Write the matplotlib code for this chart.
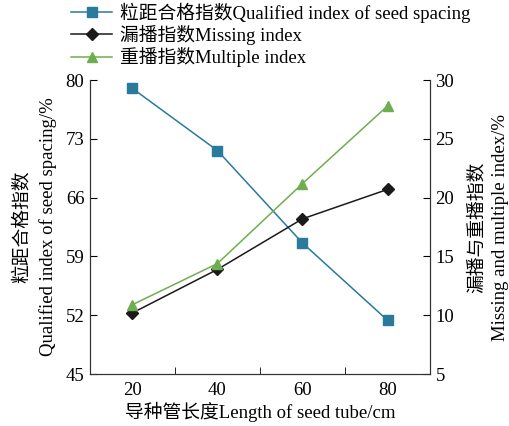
import matplotlib.pyplot as plt

plt.rcParams['font.family'] = ['Liberation Serif', 'Noto Sans CJK SC']
plt.rcParams['axes.unicode_minus'] = False

# tube length (cm) and the three indices (%)
tube_len = [20, 40, 60, 80]
qualified = [79.0, 71.6, 60.6, 51.4]
missing = [10.2, 13.9, 18.2, 20.7]
multiple = [10.9, 14.4, 21.2, 27.8]

fig = plt.figure(figsize=(5.09, 4.26), dpi=100)
ax = fig.add_axes([0.1768, 0.122, 0.668, 0.690])
ax2 = ax.twinx()

c_blue = '#2a7a9c'
c_green = '#6fae4f'
c_black = '#1a1a1a'
fs = 13.5

l1, = ax.plot(tube_len, qualified, color=c_blue, lw=1.1, marker='s', ms=6.5,
              label='粒距合格指数Qualified index of seed spacing')
l2, = ax2.plot(tube_len, missing, color=c_black, lw=1.1, marker='D', ms=6.5,
               label='漏播指数Missing index')
l3, = ax2.plot(tube_len, multiple, color=c_green, lw=1.1, marker='^', ms=7.5,
               label='重播指数Multiple index')

ax.set_xlim(10, 90)
ax.set_ylim(45, 80)
ax2.set_ylim(5, 30)
ax.set_yticks([45, 52, 59, 66, 73, 80])
ax2.set_yticks([5, 10, 15, 20, 25, 30])

# labels sit at 20..80, tick marks between them
ax.set_xticks([20, 40, 60, 80])
ax.set_xticks([30, 50, 70], minor=True)
ax.tick_params(axis='x', which='major', length=0, pad=6, labelsize=fs)
ax.tick_params(axis='x', which='minor', length=5, direction='in')
ax.tick_params(axis='y', direction='in', length=5, labelsize=fs, pad=4)
ax2.tick_params(axis='y', direction='in', length=5, labelsize=fs, pad=4)

for a in (ax, ax2):
    a.spines['top'].set_visible(False)
    for s in a.spines.values():
        s.set_color('#333333')

ax.set_xlabel('导种管长度Length of seed tube/cm', fontsize=fs, labelpad=2)
ax.set_ylabel('粒距合格指数\nQualified index of seed spacing/%', fontsize=fs,
              labelpad=6, linespacing=1.6)
ax2.set_ylabel('漏播与重播指数\nMissing and multiple index/%', fontsize=fs,
               labelpad=10, linespacing=1.5)

fig.legend(handles=[l1, l2, l3], loc='upper left', bbox_to_anchor=(0.125, 1.012),
           frameon=False, fontsize=fs, handlelength=2.2, handletextpad=0.4,
           labelspacing=0.12, borderaxespad=0)

fig.savefig('out.png', dpi=100)
